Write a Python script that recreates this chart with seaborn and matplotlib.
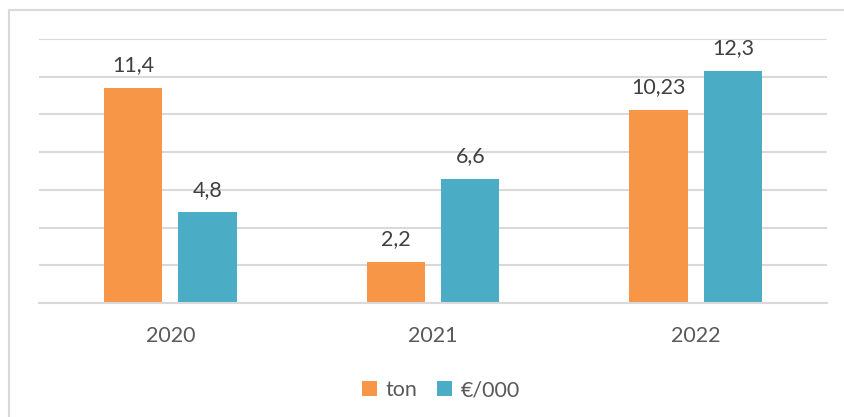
import pandas as pd
import matplotlib
matplotlib.use("Agg")
import matplotlib.pyplot as plt
import seaborn as sns
from matplotlib.patches import Rectangle

anni = ["2020", "2021", "2022"]
serie = ["ton", "€/000"]
ton = [11.4, 2.2, 10.23]
euro = [4.8, 6.6, 12.3]
colori = ["#F79646", "#4BACC6"]

df = pd.DataFrame({
    "anno": anni * 2,
    "serie": [serie[0]] * 3 + [serie[1]] * 3,
    "valore": ton + euro,
})

sns.set_style("white")
plt.rcParams["font.family"] = ["Lato", "DejaVu Sans"]
testo = "#595959"

fig = plt.figure(figsize=(8.45, 4.17), dpi=100)
ax = fig.add_axes([39 / 845, 1 - 303 / 417, 788 / 845, 264 / 417])

sns.barplot(data=df, x="anno", y="valore", hue="serie", hue_order=serie,
            palette=colori, width=0.567, gap=0.215, ax=ax, saturation=1,
            linewidth=0)

ax.set_ylim(0, 14)
ax.set_yticks(range(0, 15, 2))
ax.yaxis.grid(True, color="#D9D9D9", linewidth=1.5)
ax.set_axisbelow(True)
ax.tick_params(axis="y", left=False, labelleft=False)
ax.tick_params(axis="x", bottom=False, labelsize=15.5, labelcolor=testo, pad=13)
for s in ["top", "right", "left"]:
    ax.spines[s].set_visible(False)
ax.spines["bottom"].set_color("#D9D9D9")
ax.spines["bottom"].set_linewidth(1.5)
ax.set_xlabel("")
ax.set_ylabel("")

for cont, vals in zip(ax.containers, [ton, euro]):
    ax.bar_label(cont, labels=[str(v).replace(".", ",") for v in vals],
                 padding=9, fontsize=15.5, color="#404040")

ax.legend(loc="upper center", bbox_to_anchor=(0.51, -0.22), ncol=2, frameon=False,
          fontsize=15.5, labelcolor=testo, handlelength=0.7, handleheight=0.7,
          handletextpad=0.4, columnspacing=0.9)

fig.patches.append(Rectangle((9 / 845, -0.2), 1.2, 1 - 10 / 417 + 0.2,
                             transform=fig.transFigure, fill=False,
                             edgecolor="#D9D9D9", linewidth=1.5))

fig.savefig("out.png", dpi=100)
